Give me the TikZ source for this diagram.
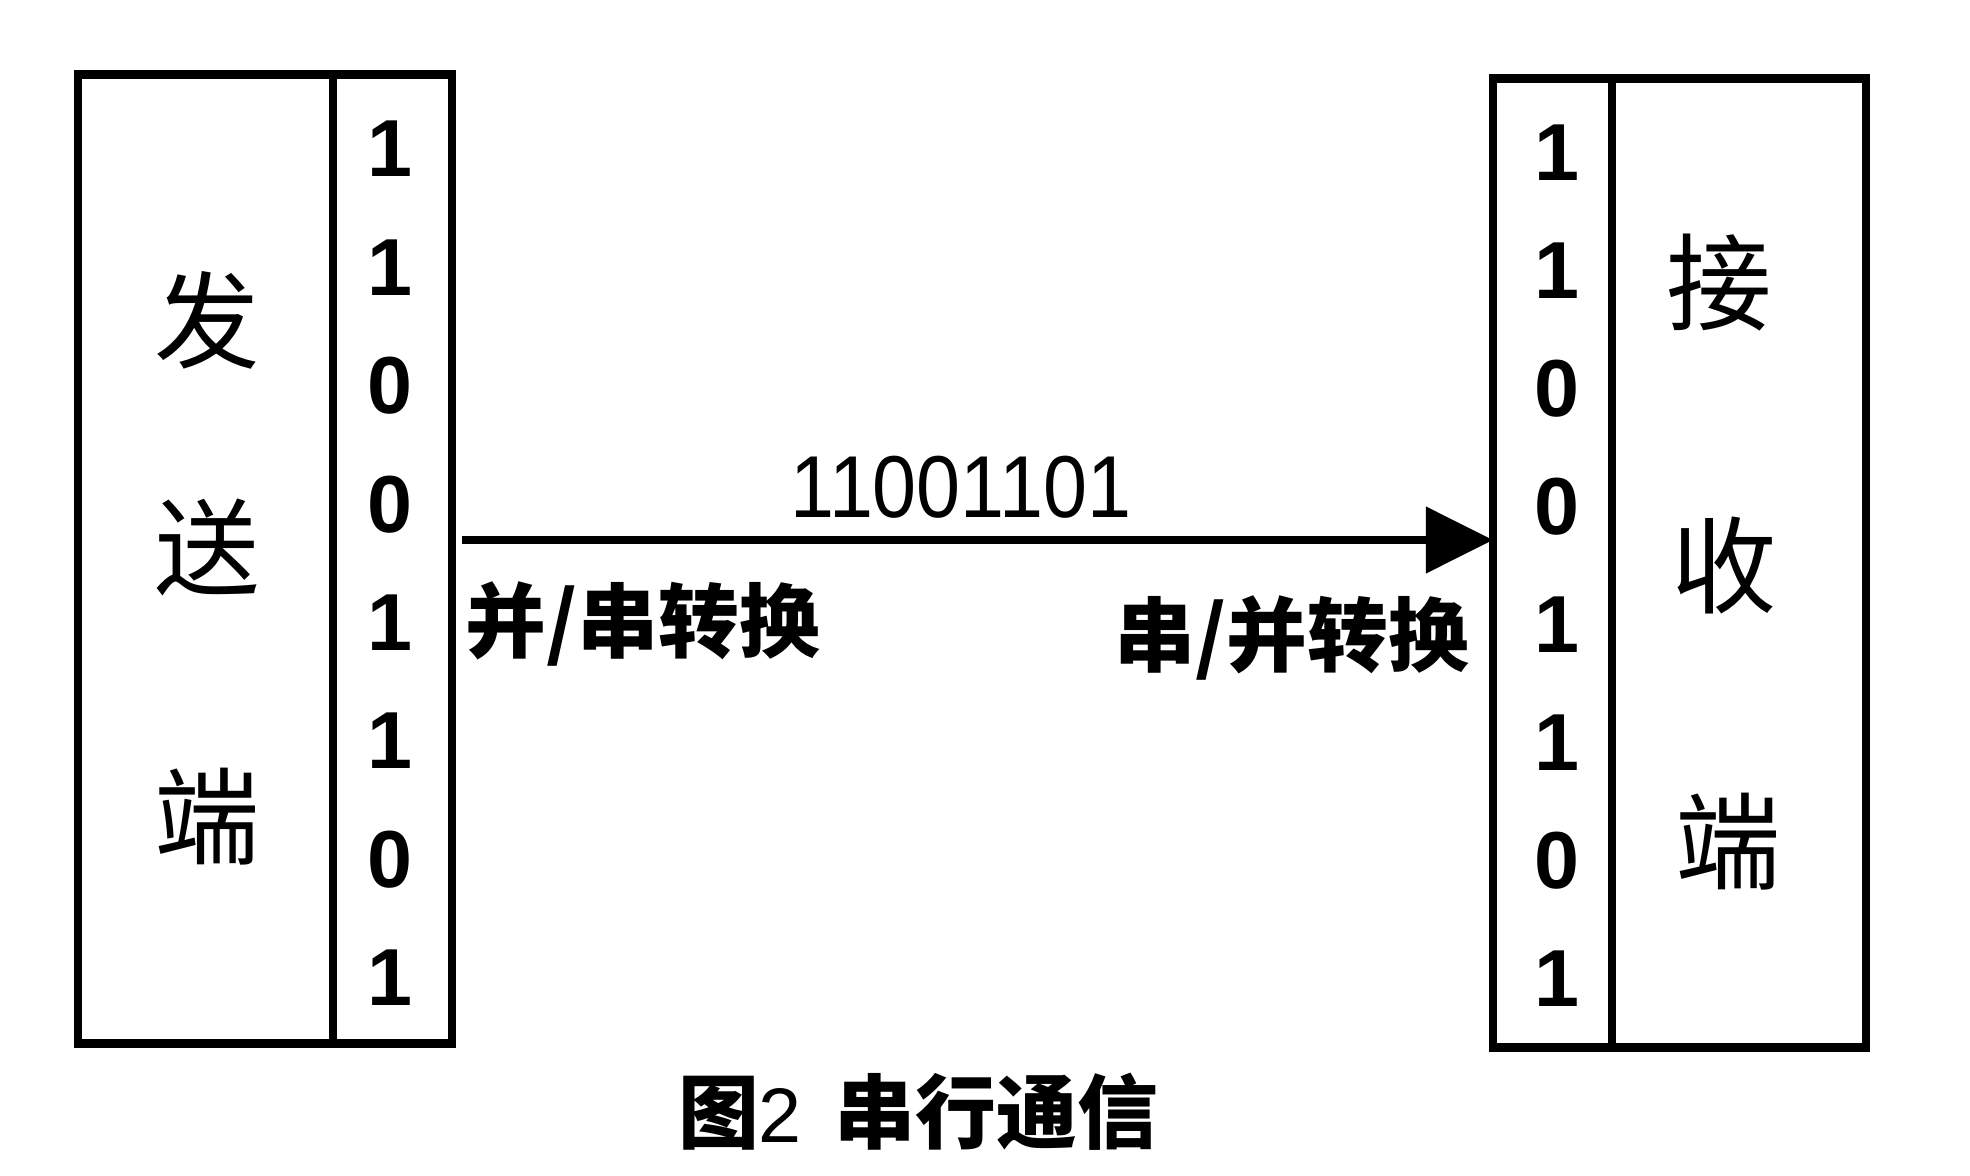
\documentclass[tikz,border=0pt]{standalone}
\usepackage{fontspec}
\setmainfont{Liberation Sans}
\newfontfamily\cjk{Noto Sans CJK SC}
\usetikzlibrary{arrows.meta, positioning}

\tikzset{
  frame/.style = {draw, line width=2.4pt, inner sep=0pt, outer sep=0pt},
  bit/.style   = {font=\fontsize{23}{23}\selectfont\bfseries, inner sep=0pt},
  side/.style  = {font=\cjk\fontsize{30}{30}\selectfont, inner sep=0pt},
  conv/.style  = {font=\cjk\bfseries\fontsize{23}{23}\selectfont, inner sep=0pt},
  link/.style  = {-{Triangle[length=0.67cm,width=0.65cm]}, line width=2.2pt},
}

\begin{document}
\begin{tikzpicture}[x=0.01cm, y=-0.01cm]
\useasboundingbox (0,0) rectangle (1970,1176);

% sender
\node[frame, minimum width=2.55cm, minimum height=9.68cm] (sendbody) at (205.5,559) {};
\node[frame, minimum width=1.19cm, minimum height=9.68cm] (sendbits) at (392.5,559) {};
% receiver
\node[frame, minimum width=1.19cm, minimum height=9.68cm] (recvbits) at (1552.5,563) {};
\node[frame, minimum width=2.54cm, minimum height=9.68cm] (recvbody) at (1739,563) {};

\node[side] (send1) at (207,320) {发};
\node[side] (send2) at (207,547) {送};
\node[side] (send3) at (207,817) {端};
\node[side] (recv1) at (1719,283) {接};
\node[side] (recv2) at (1724,565) {收};
\node[side] (recv3) at (1728,842) {端};

\foreach \b [count=\i] in {1,1,0,0,1,1,0,1} {
  \node[bit] (sb\i) at (390, {149+(\i-1)*118.4}) {\b};
  \node[bit] (rb\i) at (1557, {153+(\i-1)*118}) {\b};
}

% serial line
\coordinate (tx) at (462,540);
\draw[link] (tx) -- (recvbits.west |- tx);
\node[font=\fontsize{25}{25}\selectfont, xscale=0.9] (serial) at (961,487) {11001101};

\node[conv, anchor=west] (p2s) at (465,624) {并/串转换};
\node[conv, anchor=east] (s2p) at (1470,638) {串/并转换};

\node[conv] (caption) at (918,1112)
  {图{\normalfont\fontsize{22}{22}\selectfont 2}\hspace{0.4em}串行通信};
\end{tikzpicture}
\end{document}
